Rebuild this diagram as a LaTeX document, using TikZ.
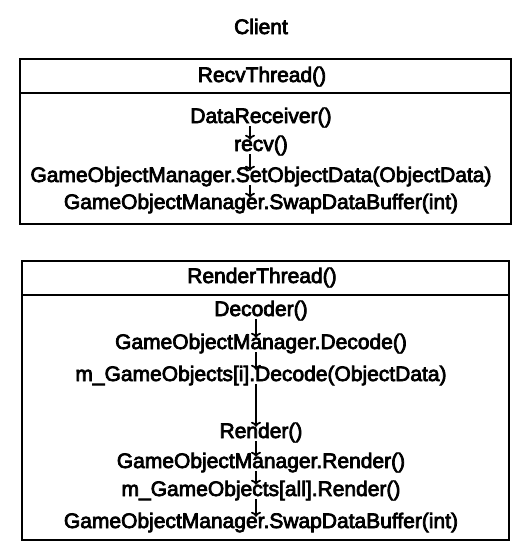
\documentclass[tikz,border=0pt]{standalone}
\usepackage{fontspec}
\setmainfont{Liberation Sans}
\newfontfamily\callfont{Liberation Sans}[FakeBold=3.5]
\usetikzlibrary{arrows.meta}

\tikzset{
	call/.style={inner sep=0pt, text height=11pt, text depth=3pt, anchor=base, font=\fontsize{21}{25}\callfont},
	flow/.style={line width=1.8pt, -{To[length=5pt,width=10pt,line width=1.8pt]}},
	frame/.style={line width=2.2pt},
}

\begin{document}
\begin{tikzpicture}[x=1pt,y=-1pt]
		\useasboundingbox (0,0) rectangle (529,555);
		\node[call] (client) at (261,34) {Client};

		% recv thread
		\draw[frame] (20,59) rectangle (511,224);
		\draw[frame] (20,93) -- (511,93);
		\node[call] (recvthread) at (262,82) {RecvThread()};
		\node[call] (datarecv) at (261,123) {DataReceiver()};
		\node[call] (recv) at (261,151) {recv()};
		\node[call] (setdata) at (261,182) {GameObjectManager.SetObjectData(ObjectData)};
		\node[call] (swapone) at (261,209) {GameObjectManager.SwapDataBuffer(int)};
		\coordinate (ra) at (250,0);
		\draw[flow] (datarecv.south -| ra) -- (recv.north -| ra);
		\draw[flow] (recv.south -| ra) -- (setdata.north -| ra);
		\draw[flow] (setdata.south -| ra) -- (swapone.north -| ra);

		% render thread
		\draw[frame] (22,261) rectangle (509,540);
		\draw[frame] (22,295) -- (509,295);
		\node[call] (renderthread) at (262,283) {RenderThread()};
		\node[call] (decoder) at (261,316) {Decoder()};
		\node[call] (gomdecode) at (261,349) {GameObjectManager.Decode()};
		\node[call] (godecode) at (261,381) {m\_GameObjects[i].Decode(ObjectData)};
		\node[call] (render) at (261,438) {Render()};
		\node[call] (gomrender) at (261,468) {GameObjectManager.Render()};
		\node[call] (gorender) at (261,496) {m\_GameObjects[all].Render()};
		\node[call] (swaptwo) at (261,528) {GameObjectManager.SwapDataBuffer(int)};
		\coordinate (da) at (256,0);
		\draw[flow] (decoder.south -| da) -- (gomdecode.north -| da);
		\draw[flow] (gomdecode.south -| da) -- (godecode.north -| da);
		\draw[flow] (godecode.south -| da) -- (render.north -| da);
		\draw[flow] (render.south -| da) -- (gomrender.north -| da);
		\draw[flow] (gomrender.south -| da) -- (gorender.north -| da);
		\draw[flow] (gorender.south -| da) -- (swaptwo.north -| da);
	\end{tikzpicture}
\end{document}
